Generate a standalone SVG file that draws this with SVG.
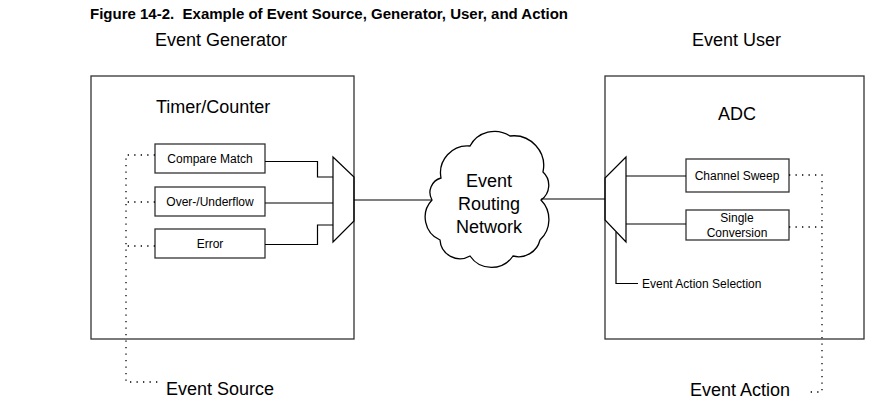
<svg xmlns="http://www.w3.org/2000/svg" width="888" height="411" viewBox="0 0 888 411">
<style>
  text { font-family: "Liberation Sans", Arial, sans-serif; fill: #000; }
  .title { font-size: 14px; font-weight: bold; }
  .big { font-size: 18px; }
  .small { font-size: 12px; }
  .mid { text-anchor: middle; }
  .box { fill: #fff; stroke: #333; stroke-width: 1.3; }
  .ln { fill: none; stroke: #000; stroke-width: 1.2; }
  .dot { fill: none; stroke: #000; stroke-width: 1.3; stroke-dasharray: 1.3 5.2; }
</style>
<rect width="888" height="411" fill="#fff"/>
<text class="title" x="90" y="19" textLength="478" lengthAdjust="spacingAndGlyphs" xml:space="preserve">Figure 14-2.  Example of Event Source, Generator, User, and Action</text>
<text class="big" x="155" y="46">Event Generator</text>
<text class="big" x="692" y="46">Event User</text>

<g id="generator">
  <rect class="box" x="91" y="76" width="263" height="263"/>
  <text class="big" x="156" y="113">Timer/Counter</text>
</g>
<g id="user">
  <rect class="box" x="605" y="76" width="259" height="263"/>
  <text class="big mid" x="737" y="120">ADC</text>
</g>
<g id="compare-match">
  <rect class="box" x="155" y="144" width="110" height="29"/>
  <text class="small mid" x="210" y="163">Compare Match</text>
</g>
<g id="overflow">
  <rect class="box" x="155" y="187" width="110" height="29"/>
  <text class="small mid" x="210" y="206">Over-/Underflow</text>
</g>
<g id="error">
  <rect class="box" x="155" y="229" width="110" height="29"/>
  <text class="small mid" x="210" y="248">Error</text>
</g>
<g id="mux-left">
  <path class="ln" d="M333 157 L354 177 L354 221 L333 242 Z"/>
</g>
<g id="cloud">
  <path fill="#fff" stroke="#000" stroke-width="1.3" d="M441 178 A27 27 0 0 1 470 146 A28 28 0 0 1 510 136 A30 30 0 0 1 543 172 A18 18 0 0 1 541 200 A28 28 0 0 1 540 240 A22 22 0 0 1 513 256 A26 26 0 0 1 470 256 A20 20 0 0 1 440 240 A25 25 0 0 1 432 200 A15 15 0 0 1 441 178 Z"/>
  <text class="big mid" x="489" y="187">Event</text>
  <text class="big mid" x="489" y="210">Routing</text>
  <text class="big mid" x="489" y="233">Network</text>
</g>
<g id="mux-right">
  <path class="ln" d="M626 157 L605 178 L605 220 L626 242 Z"/>
</g>
<g id="channel-sweep">
  <rect class="box" x="686" y="159" width="103" height="33"/>
  <text class="small mid" x="737" y="180">Channel Sweep</text>
</g>
<g id="single-conversion">
  <rect class="box" x="686" y="210" width="103" height="30"/>
  <text class="small mid" x="737" y="222">Single</text>
  <text class="small mid" x="737" y="237">Conversion</text>
</g>
<text class="small" x="642" y="288">Event Action Selection</text>
<text class="big" x="166" y="395">Event Source</text>
<text class="big" x="690" y="396">Event Action</text>

<g id="connectors">
  <polyline class="ln" points="265,161.5 317.5,161.5 317.5,177 333,177"/>
  <line class="ln" x1="265" y1="203" x2="333" y2="203"/>
  <polyline class="ln" points="265,244.5 317.5,244.5 317.5,225 333,225"/>
  <line class="ln" x1="354" y1="200" x2="432" y2="200"/>
  <line class="ln" x1="541" y1="199" x2="605" y2="199"/>
  <line class="ln" x1="626" y1="176" x2="686" y2="176"/>
  <line class="ln" x1="626" y1="224" x2="686" y2="224"/>
  <polyline class="ln" points="616,232 616,283.5 638,283.5"/>
  <polyline class="dot" points="155,155 126,155 126,382 160,382"/>
  <line class="dot" x1="155" y1="202" x2="126" y2="202"/>
  <line class="dot" x1="155" y1="246" x2="126" y2="246"/>
  <polyline class="dot" points="789,175 822,175 822,392 808,392"/>
  <line class="dot" x1="789" y1="227" x2="822" y2="227"/>
</g>
</svg>
